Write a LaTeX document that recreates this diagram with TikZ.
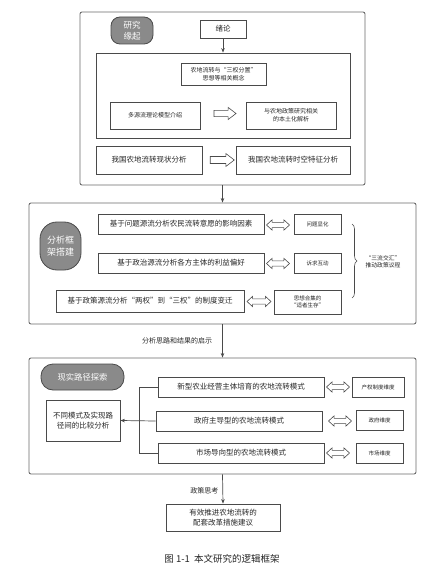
\documentclass[tikz,border=0pt]{standalone}
\usepackage{fontspec}
\setmainfont{Noto Sans CJK SC}
\usetikzlibrary{shapes.arrows,decorations.pathreplacing,arrows.meta}
\definecolor{bd}{HTML}{4A4A4A}
\definecolor{ob}{HTML}{6A6A6A}
\definecolor{lf}{HTML}{8A8A8A}
\newcommand{\fs}[1]{\fontsize{#1pt}{\dimexpr #1pt*13/10\relax}\selectfont}
\tikzset{
  outerbox/.style={draw=ob, line width=0.9pt, rounded corners=2pt, inner sep=0},
  bx/.style={draw=bd, line width=0.8pt, inner sep=1pt, align=center, text=black!85},
  lab/.style={draw=bd, line width=0.8pt, fill=lf, text=white, align=center, inner sep=0},
  sarr/.style={single arrow, draw=bd, line width=0.6pt, inner xsep=0pt, inner ysep=2.8pt, single arrow head extend=3pt, single arrow tip angle=75},
  darr/.style={double arrow, draw=bd, line width=0.6pt, inner xsep=0pt, inner ysep=2.3pt, double arrow head extend=2.6pt, double arrow tip angle=85, minimum height=23pt},
  con/.style={draw=bd, line width=0.7pt},
  tip/.style={draw=bd, line width=0.7pt, -{Stealth[length=4.5pt,width=3.5pt]}},
  f75/.style={font=\fs{7.5}},
  f6/.style={font=\fs{6}},
  f55/.style={font=\fs{5.5}},
}
\begin{document}
\begin{tikzpicture}[x=1pt,y=-1pt]
\useasboundingbox (0,0) rectangle (444,577);
% ---------- block 1
\node[outerbox, minimum width=285pt, minimum height=173pt] (o1) at (222.5,98.5) {};
\node[lab, font=\fs{8.5}, rounded corners=9pt, minimum width=42pt, minimum height=27pt] (l1) at (132,30.5) {研究\\缘起};
\node[bx, f75, minimum width=46pt, minimum height=18pt] (xl) at (223,29) {绪论};
\node[bx, minimum width=254pt, minimum height=85pt, inner sep=0] (i1) at (223,95.5) {};
\node[bx, f6, minimum width=85pt, minimum height=22pt] (cc) at (223.5,74) {农地流转与“三权分置”\\思想等相关概念};
\node[bx, f6, minimum width=90pt, minimum height=27pt] (msf) at (155,115.5) {多源流理论模型介绍};
\node[bx, f6, minimum width=90pt, minimum height=27pt] (loc) at (291,115.5) {与农地政策研究相关\\的本土化解析};
\node[sarr, minimum height=22pt] (a1) at (223,113.5) {};
\node[bx, f75, minimum width=106pt, minimum height=28pt] (st) at (149,160) {我国农地流转现状分析};
\node[bx, f75, minimum width=114pt, minimum height=28pt] (sp) at (293,160) {我国农地流转时空特征分析};
\node[sarr, minimum height=24pt, inner ysep=3.2pt] (a2) at (220,160) {};
\draw[tip] (xl.south) -- (xl.south |- i1.north);
% ---------- block 2
\node[outerbox, minimum width=387pt, minimum height=121pt] (o2) at (222.5,263.5) {};
\node[lab, font=\fs{9}, rounded corners=17pt, minimum width=41pt, minimum height=48pt] (l2) at (60.5,246) {分析框\\架搭建};
\node[bx, f75, minimum width=166pt, minimum height=20pt] (r1) at (181,224) {基于问题源流分析农民流转意愿的影响因素};
\node[bx, f55, minimum width=47pt, minimum height=20pt] (q1) at (317.5,224) {问题显化};
\node[darr] (da1) at (278,225) {};
\node[bx, f75, minimum width=166pt, minimum height=20pt] (r2) at (181,263) {基于政治源流分析各方主体的利益偏好};
\node[bx, f55, minimum width=47pt, minimum height=20pt] (q2) at (317.5,263) {诉求互动};
\node[darr] (da2) at (278,263.5) {};
\node[bx, f75, minimum width=188pt, minimum height=22pt] (r3) at (150,301) {基于政策源流分析“两权”到“三权”的制度变迁};
\node[bx, f55, minimum width=67pt, minimum height=24pt] (q3) at (307.5,302) {思想合集的\\“适者生存”};
\node[darr, minimum height=24pt] (da3) at (259,301.5) {};
\coordinate (bt) at (352,224);
\coordinate (bb) at (352,298);
\draw[con, line width=0.6pt, decorate, decoration={brace, amplitude=5pt}] (bt) -- (bb);
\node[align=center, inner sep=0, text=black!85, font=\fs{5.8}] (bl) at (383,262) {“三流交汇”\\推动政策议程};
\draw[tip] (o1.south) -- (o2.north);
% ---------- block 3
\node[outerbox, minimum width=387pt, minimum height=116pt] (o3) at (222.5,416) {};
\draw[tip] (o2.south) -- node[left=10pt, text=black!85, inner sep=0, font=\fs{7}] (t1) {分析思路和结果的启示} (o3.north);
\node[lab, font=\fs{8.3}, rounded corners=12pt, minimum width=83pt, minimum height=26pt] (l3) at (82.5,377) {现实路径探索};
\node[bx, f75, minimum width=74pt, minimum height=41pt] (cmp) at (83,420.5) {不同模式及实现路\\径间的比较分析};
\node[bx, f75, minimum width=166pt, minimum height=20pt] (m1) at (241,387) {新型农业经营主体培育的农地流转模式};
\node[bx, f75, minimum width=166pt, minimum height=20pt] (m2) at (239,421) {政府主导型的农地流转模式};
\node[bx, f75, minimum width=166pt, minimum height=20pt] (m3) at (241,453) {市场导向型的农地流转模式};
\node[bx, f55, minimum width=52pt, minimum height=20pt] (d1) at (378,387) {产权制度维度};
\node[bx, f55, minimum width=47pt, minimum height=20pt] (d2) at (379.5,420) {政府维度};
\node[bx, f55, minimum width=47pt, minimum height=20pt] (d3) at (379.5,453) {市场维度};
\node[darr] (e1) at (338,387) {};
\node[darr] (e2) at (340,421) {};
\node[darr] (e3) at (338,453) {};
\coordinate (k1) at (139,387);
\coordinate (k3) at (139,453);
\draw[con] (m1.west) -- (k1) -- (k3) -- (m3.west);
\draw[tip] (m2.west) -- (cmp.east);
% ---------- final
\node[bx, f75, minimum width=114pt, minimum height=27pt] (fin) at (223,517.5) {有效推进农地流转的\\配套改革措施建议};
\draw[tip] (o3.south) -- node[left=4pt, pos=0.55, text=black!85, inner sep=0, font=\fs{7}] (t2) {政策思考} (fin.north);
\node[inner sep=0, text=black!85, font=\fs{9.5}] (cap) at (222,559) {图 1-1\ \ 本文研究的逻辑框架};
\end{tikzpicture}
\end{document}
